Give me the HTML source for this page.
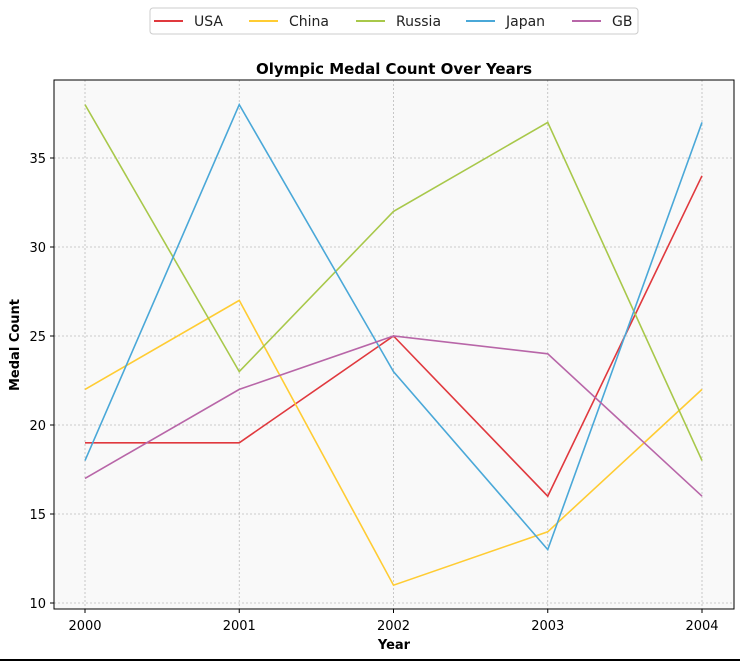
<!DOCTYPE html>
<html><head><meta charset="utf-8"><style>
body{margin:0;background:#fff;width:740px;height:661px;overflow:hidden;font-family:"DejaVu Sans","Liberation Sans",sans-serif}
</style></head><body>
<svg id="chart" width="740" height="661" xmlns="http://www.w3.org/2000/svg" font-family="DejaVu Sans, Liberation Sans, sans-serif">
<rect x="54" y="80" width="680" height="529" fill="#f9f9f9"/>
<g id="grid"></g>
<g id="series"></g>
<rect x="54" y="80" width="680" height="529" fill="none" stroke="#000" stroke-width="1"/>
<g id="axes"></g>
<text x="394" y="74" text-anchor="middle" font-size="15" font-weight="bold">Olympic Medal Count Over Years</text>
<text x="394" y="649" text-anchor="middle" font-size="13" font-weight="bold">Year</text>
<text transform="translate(19,345) rotate(-90)" text-anchor="middle" font-size="13" font-weight="bold">Medal Count</text>
<g id="legend">
<rect x="150" y="8" width="488" height="26" rx="3" fill="#fff" stroke="#ccc"/>
</g>
<line x1="0" y1="660" x2="740" y2="660" stroke="#000" stroke-width="2"/>
</svg>
<script>
const years = [2000, 2001, 2002, 2003, 2004];
const seriesNames = ["USA", "China", "Russia", "Japan", "GB"];
const usa = [19, 19, 25, 16, 34];
const china = [22, 27, 11, 14, 22];
const russia = [38, 23, 32, 37, 18];
const japan = [18, 38, 23, 13, 37];
const gb = [17, 22, 25, 24, 16];
const yTicks = [10, 15, 20, 25, 30, 35];
const colors = ["#e0393e", "#ffcc33", "#a8c84a", "#4aa8d8", "#b866a8"];
const allSeries = [usa, china, russia, japan, gb];

const NS = "http://www.w3.org/2000/svg";
function xScale(v){ return 85 + (v - 2000) * (702 - 85) / 4; }
function yScale(v){ return 603 - (v - 10) * (603 - 158) / 25; }
function mk(tag, attrs, parent){ const e = document.createElementNS(NS, tag); for (const k in attrs) e.setAttribute(k, attrs[k]); parent.appendChild(e); return e; }

const grid = document.getElementById("grid");
const axes = document.getElementById("axes");
years.forEach(y => {
  const x = xScale(y);
  const g = mk("line", {x1:x, x2:x, y1:80, y2:609, stroke:"#bbb", "stroke-width":0.8, "stroke-dasharray":"2,2"}, grid);
  
  
  const t = mk("line", {x1:x, x2:x, y1:609, y2:613, stroke:"#000"}, axes);
  
  
  const l = mk("text", {x:x, y:630, "text-anchor":"middle", "font-size":13}, axes);
  l.textContent = y;
  
  
});
yTicks.forEach(v => {
  const y = yScale(v);
  const g = mk("line", {x1:54, x2:734, y1:y, y2:y, stroke:"#bbb", "stroke-width":0.8, "stroke-dasharray":"2,2"}, grid);
  
  
  const t = mk("line", {x1:50, x2:54, y1:y, y2:y, stroke:"#000"}, axes);
  
  
  const l = mk("text", {x:46, y:y+5, "text-anchor":"end", "font-size":13}, axes);
  l.textContent = v;
  
  
});

const sg = document.getElementById("series");
allSeries.forEach((s, i) => {
  const pts = s.map((v, j) => xScale(years[j]) + "," + yScale(v)).join(" ");
  const p = mk("polyline", {points:pts, fill:"none", stroke:colors[i], "stroke-width":1.6}, sg);
  
  
});

const lg = document.getElementById("legend");
const lineX = [154, 249, 356, 466, 572];
seriesNames.forEach((n, i) => {
  const g = mk("g", {}, lg);
  
  
  mk("line", {x1:lineX[i], x2:lineX[i]+29, y1:21, y2:21, stroke:colors[i], "stroke-width":2}, g);
  const t = mk("text", {x:lineX[i]+40, y:26, "font-size":14, fill:"#222"}, g);
  t.textContent = n;
});
</script>
</body></html>
